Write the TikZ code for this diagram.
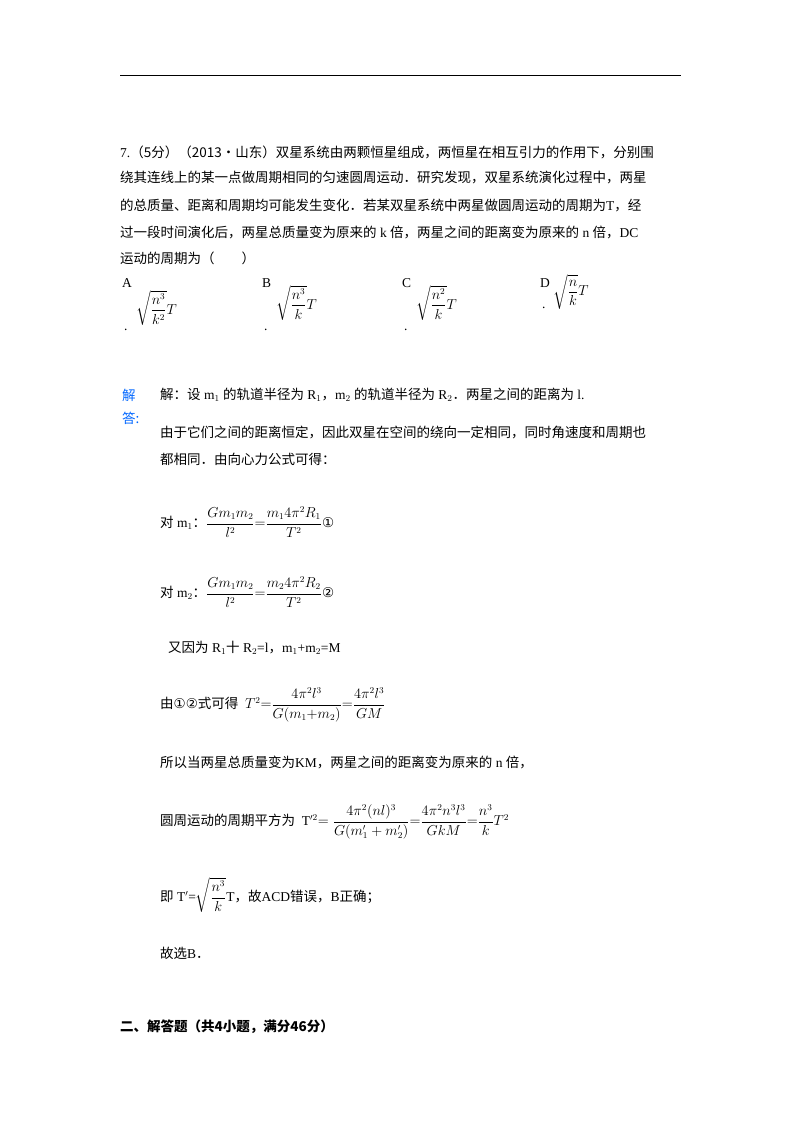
\documentclass[tikz,border=0pt]{standalone}
\usepackage{amsmath}
\usepackage{fontspec}
\setmainfont{Liberation Serif}
\newfontfamily\cjk{Noto Sans CJK SC}
\newfontfamily\dv{DejaVu Sans}
\tikzset{txt/.style={anchor=west,inner sep=0pt,font=\fontsize{13.5}{16}\selectfont}}
\newcommand{\ck}[1]{{\cjk #1}}
\newcommand{\cA}{{\dv ①}}
\newcommand{\cB}{{\dv ②}}
\begin{document}
\begin{tikzpicture}[x=1pt,y=-1pt]
\useasboundingbox (0,0) rectangle (800,1132);
\draw[line width=0.8pt] (120,75) coordinate (r1) -- (681,75) coordinate (r2);
\node[txt] (q1) at (120,152) {7.\ck{（5分）（2013•山东）双星系统由两颗恒星组成，两恒星在相互引力的作用下，分别围}};
\node[txt] (q2) at (120,178) {\ck{绕其连线上的某一点做周期相同的匀速圆周运动．研究发现，双星系统演化过程中，两星}};
\node[txt] (q3) at (120,205) {\ck{的总质量、距离和周期均可能发生变化．若某双星系统中两星做圆周运动的周期为}T\ck{，经}};
\node[txt] (q4) at (120,232) {\ck{过一段时间演化后，两星总质量变为原来的} k \ck{倍，两星之间的距离变为原来的} n \ck{倍，}DC};
\node[txt] (q5) at (120,258) {\ck{运动的周期为（\quad\quad ）}};
\node[txt] (oA) at (122,283) {A};
\node[txt] (dA) at (124,330) {.};
\node[txt] (fA) at (136,308) {$\sqrt{\dfrac{n^3}{k^2}}T$};
\node[txt] (oB) at (262,283) {B};
\node[txt] (dB) at (264,330) {.};
\node[txt] (fB) at (276,303) {$\sqrt{\dfrac{n^3}{k}}T$};
\node[txt] (oC) at (402,283) {C};
\node[txt] (dC) at (404,330) {.};
\node[txt] (fC) at (416,303) {$\sqrt{\dfrac{n^2}{k}}T$};
\node[txt] (oD) at (540,283) {D};
\node[txt] (dD) at (542,308) {.};
\node[txt] (fD) at (553,292) {$\sqrt{\dfrac{n}{k}}T$};
\node[txt,text=blue!60!cyan] (j1) at (122,395) {\ck{解}};
\node[txt,text=blue!60!cyan] (j2) at (122,418) {\ck{答:}};
\node[txt] (s1) at (160,395) {\ck{解：设} m$_1$ \ck{的轨道半径为} R$_1$\ck{，}m$_2$ \ck{的轨道半径为} R$_2$\ck{．两星之间的距离为} l.};
\node[txt] (s2) at (160,433) {\ck{由于它们之间的距离恒定，因此双星在空间的绕向一定相同，同时角速度和周期也}};
\node[txt] (s3) at (160,459) {\ck{都相同．由向心力公式可得：}};
\node[txt] (s4) at (160,522) {\ck{对} m$_1$\ck{：}$\dfrac{Gm_1m_2}{l^2}{=}\dfrac{m_14\pi^2R_1}{T^2}$\cA};
\node[txt] (s5) at (160,592) {\ck{对} m$_2$\ck{：}$\dfrac{Gm_1m_2}{l^2}{=}\dfrac{m_24\pi^2R_2}{T^2}$\cB};
\node[txt] (s6) at (168,648) {\ck{又因为} R$_1$\ck{十} R$_2$=l\ck{，}m$_1$+m$_2$=M};
\node[txt] (s7) at (160,705) {\ck{由}\cA\cB\ck{式可得} \ $T^2{=}\dfrac{4\pi^2l^3}{G(m_1{+}m_2)}{=}\dfrac{4\pi^2l^3}{GM}$};
\node[txt] (s8) at (160,762) {\ck{所以当两星总质量变为}KM\ck{，两星之间的距离变为原来的} n \ck{倍，}};
\node[txt] (s9) at (160,822) {\ck{圆周运动的周期平方为} \ T$'^2${$=\dfrac{4\pi^2(nl)^3}{G(m_1'+m_2')}{=}\dfrac{4\pi^2n^3l^3}{GkM}{=}\dfrac{n^3}{k}T^2$}};
\node[txt] (s10) at (160,895) {\ck{即} T$'$=$\sqrt{\dfrac{n^3}{k}}$T\ck{，故}ACD\ck{错误，}B\ck{正确；}};
\node[txt] (s11) at (160,953) {\ck{故选}B\ck{．}};
\node[txt,font=\fontsize{13.5}{16}\selectfont\bfseries] (h) at (120,1027) {\ck{二、解答题（共4小题，满分46分）}};
\end{tikzpicture}
\end{document}
